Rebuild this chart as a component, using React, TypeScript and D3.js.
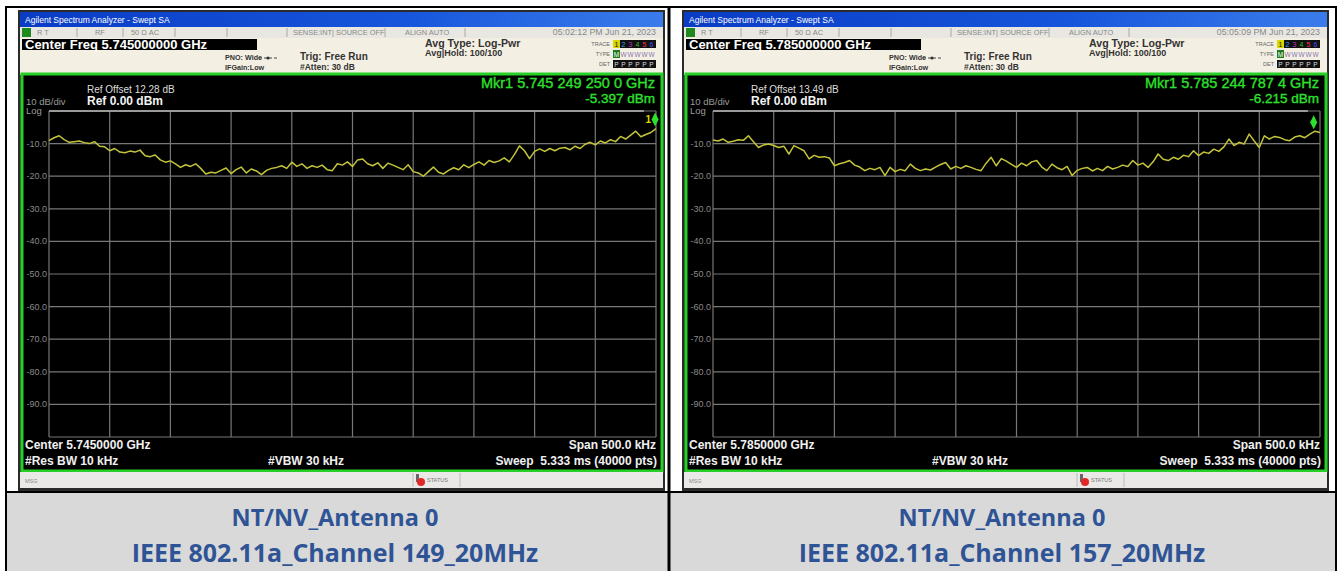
import React from 'react';
import * as d3 from 'd3';

// sweep readings (dBm), 121 evenly spaced points across the 500 kHz span
const ch149Trace = [
  -9.1, -8.2, -7.6, -8.8, -9.6, -9.4, -9.2, -9.7, -10.0, -9.4,
  -10.8, -11.0, -12.2, -11.5, -12.6, -12.8, -12.3, -12.6, -12.0, -13.7,
  -14.0, -13.5, -15.0, -15.7, -15.3, -16.2, -17.3, -16.5, -17.0, -16.2,
  -17.6, -19.3, -18.8, -19.0, -18.2, -17.5, -19.2, -18.0, -17.2, -19.0,
  -17.8, -18.4, -19.5, -18.2, -17.6, -17.3, -16.8, -17.6, -15.7, -17.0,
  -16.2, -17.6, -16.8, -17.3, -16.6, -18.0, -18.3, -16.2, -16.6, -15.6,
  -17.0, -15.0, -14.7, -16.2, -16.8, -15.9, -17.6, -16.0, -16.6, -17.3,
  -18.0, -16.5, -18.6, -19.0, -20.0, -18.6, -17.2, -18.8, -19.3, -18.2,
  -17.4, -18.0, -16.5, -17.4, -16.4, -15.6, -16.6, -15.2, -15.8, -15.3,
  -14.4, -15.6, -13.4, -10.7, -12.2, -14.6, -12.4, -11.6, -12.4, -11.5,
  -12.2, -11.4, -11.2, -11.9, -10.8, -11.5, -10.2, -9.6, -10.4, -9.2,
  -9.8, -8.8, -9.4, -7.8, -8.6, -7.4, -6.2, -7.9, -7.2, -6.6,
  -5.4,
];

const ch157Trace = [
  -8.9, -9.2, -8.6, -9.6, -9.3, -8.8, -9.0, -7.6, -9.4, -11.2,
  -10.4, -10.1, -10.6, -11.2, -10.8, -13.2, -10.6, -11.4, -12.2, -14.7,
  -13.6, -14.2, -14.0, -14.4, -16.8, -16.2, -15.8, -15.2, -16.6, -17.2,
  -18.3, -17.6, -18.0, -17.3, -19.8, -17.3, -18.6, -17.9, -18.3, -16.3,
  -17.6, -18.3, -17.8, -18.1, -17.2, -16.4, -15.8, -17.8, -17.0, -17.6,
  -16.8, -17.3, -17.9, -18.3, -16.0, -14.2, -16.8, -14.6, -15.4, -16.4,
  -17.3, -16.0, -16.8, -15.6, -15.2, -17.2, -18.3, -16.3, -17.4, -18.0,
  -17.0, -19.8, -18.2, -17.6, -17.3, -18.4, -17.6, -18.3, -17.0, -17.8,
  -17.3, -16.6, -17.0, -15.2, -16.6, -16.0, -17.3, -15.6, -13.2, -14.8,
  -15.2, -14.2, -14.8, -13.6, -14.0, -12.2, -13.7, -12.6, -13.0, -11.7,
  -12.4, -11.0, -8.6, -10.6, -9.6, -10.1, -7.1, -9.2, -11.2, -7.6,
  -8.6, -7.8, -8.1, -8.8, -9.1, -8.0, -7.6, -8.2, -7.1, -6.2,
  -6.6,
];

const centerFreqs = ['5.745000000', '5.785000000'];
const centerShort = ['5.7450000', '5.7850000'];
const refOffsets = ['12.28', '13.49'];
const markerFreqText = ['5.745 249 250 0', '5.785 244 787 4'];
const markerOffsetKHz = [249.25, 244.787];
const markerLevels = [-5.397, -6.215];
const timestamps = ['05:02:12 PM Jun 21, 2023', '05:05:09 PM Jun 21, 2023'];
const captionTop = ['NT/NV_Antenna 0', 'NT/NV_Antenna 0'];
const captionBottom = ['IEEE 802.11a_Channel 149_20MHz', 'IEEE 802.11a_Channel 157_20MHz'];
const yTicks = [-10, -20, -30, -40, -50, -60, -70, -80, -90];
const traceColors = ['#d8d800', '#2aa0ff', '#c030c0', '#30c030', '#ff3060', '#5050ff'];

const W = 1340;
const H = 571;
const SANS = '"Liberation Sans", Arial, sans-serif';

interface PanelProps {
  idx: number;
  dx: number;
  trace: number[];
}

function Panel({ idx, dx, trace }: PanelProps) {
  const x = d3.scaleLinear().domain([-250, 250]).range([49, 656]);
  const y = d3.scaleLinear().domain([-100, 0]).range([437, 111]);
  const step = 500 / (trace.length - 1);
  const line = d3.line<number>()
    .x((d, i) => x(-250 + i * step))
    .y(d => y(d));

  const vGrid = d3.range(-250, 251, 50);
  const hGrid = d3.range(-100, 1, 10);
  const mx = x(markerOffsetKHz[idx]);
  const my = y(markerLevels[idx]);

  return (
    <g transform={`translate(${dx},0)`} fontFamily={SANS}>
      {/* screenshot frame */}
      <rect x={18} y={10} width={647} height={482} fill="#2b2b2b" />
      <defs>
        <linearGradient id={`tb${idx}`} x1="0" x2="1" y1="0" y2="0">
          <stop offset="0" stopColor="#0a3cc4" />
          <stop offset="0.6" stopColor="#1656dc" />
          <stop offset="1" stopColor="#3b7cec" />
        </linearGradient>
      </defs>
      <rect x={20} y={12} width={643} height={15} fill={`url(#tb${idx})`} />
      <text x={25} y={23} fontSize={8.5} fill="#fff">Agilent Spectrum Analyzer - Swept SA</text>

      {/* status row */}
      <rect x={20} y={27} width={643} height={11} fill="#e9e7e2" />
      <rect x={22} y={28} width={9} height={9} fill="#1e8a1e" />
      {[77, 123, 175, 227, 287, 385, 465].map(sx => (
        <line key={sx} x1={sx} x2={sx} y1={28} y2={37} stroke="#a8a8a8" />
      ))}
      <g fontSize={7.4} fill="#888">
        <text x={37} y={35}>R  T</text>
        <text x={95} y={35}>RF</text>
        <text x={131} y={35}>50 Ω   AC</text>
        <text x={293} y={35}>SENSE:INT| SOURCE OFF</text>
        <text x={405} y={35}>ALIGN AUTO</text>
        <text x={656} y={35} textAnchor="end" fontSize={8.8}>{timestamps[idx]}</text>
      </g>

      {/* settings header */}
      <rect x={20} y={38} width={643} height={37} fill="#f3f0e3" />
      <rect x={22} y={39} width={235} height={11} fill="#000" />
      <text x={25} y={49} fontSize={13} fontWeight="bold" fill="#fff">Center Freq {centerFreqs[idx]} GHz</text>
      <g fontSize={7.2} fontWeight="bold" fill="#333">
        <text x={225} y={60}>PNO: Wide</text>
        <text x={225} y={70}>IFGain:Low</text>
      </g>
      <line x1={259} x2={277} y1={58} y2={58} stroke="#444" strokeDasharray="3 2" />
      <circle cx={268} cy={58} r={1.6} fill="#333" />
      <g fontSize={10} fontWeight="bold" fill="#333">
        <text x={300} y={60}>Trig: Free Run</text>
        <text x={300} y={70} fontSize={8.5}>#Atten: 30 dB</text>
        <text x={425} y={47} fontSize={10.6}>Avg Type: Log-Pwr</text>
        <text x={425} y={56} fontSize={9}>Avg|Hold: 100/100</text>
      </g>
      <g fontSize={5.5} fill="#666" textAnchor="end">
        <text x={610} y={46}>TRACE</text>
        <text x={610} y={56}>TYPE</text>
        <text x={610} y={66}>DET</text>
      </g>
      <rect x={613} y={40} width={43} height={8} fill="#111" />
      <rect x={613} y={60} width={43} height={8} fill="#111" />
      {traceColors.map((c, i) => (
        <g key={i}>
          {i === 0 && <rect x={613} y={40} width={7} height={8} fill={c} />}
          <text x={616.5 + i * 7} y={47} fontSize={7} textAnchor="middle" fill={i === 0 ? '#111' : c}>{i + 1}</text>
          {i === 0 && <rect x={613} y={50} width={7} height={8} fill="#1e7a1e" />}
          <text x={616.5 + i * 7} y={56.5} fontSize={6.5} textAnchor="middle" fill={i === 0 ? '#fff' : '#8a70b0'}>{i === 0 ? 'M' : 'W'}</text>
          <text x={616.5 + i * 7} y={66.5} fontSize={6.5} textAnchor="middle" fill="#ddd">P</text>
        </g>
      ))}

      {/* display */}
      <rect x={22} y={74} width={640} height={397} fill="#000" stroke="#27d027" strokeWidth={3} />
      <text x={87} y={93} fontSize={10} fill="#ddd">Ref Offset {refOffsets[idx]} dB</text>
      <text x={87} y={105} fontSize={12} fontWeight="bold" fill="#f2f2f2">Ref 0.00 dBm</text>
      <text x={26} y={105} fontSize={9.5} fill="#9a9a9a">10 dB/div</text>
      <text x={26} y={114} fontSize={9.5} fill="#9a9a9a">Log</text>
      <g fill="#2ee02e" stroke="#2ee02e" strokeWidth={0.35} textAnchor="end">
        <text x={655} y={88} fontSize={14.5}>Mkr1 {markerFreqText[idx]} GHz</text>
        <text x={655} y={103} fontSize={13.5}>{markerLevels[idx].toFixed(3)} dBm</text>
      </g>

      {vGrid.map(v => (
        <line key={`v${v}`} x1={x(v)} x2={x(v)} y1={y(0)} y2={y(-100)} stroke="#777" strokeWidth={1.2} />
      ))}
      {hGrid.map(v => (
        <line key={`h${v}`} x1={x(-250)} x2={x(250)} y1={y(v)} y2={y(v)} stroke="#777" strokeWidth={1.2} />
      ))}
      <line x1={x(-250)} x2={x(240)} y1={y(0)} y2={y(0)} stroke="#9a9a9a" strokeWidth={2} />
      {yTicks.map(t => (
        <text key={t} x={47} y={y(t) + 3} fontSize={9} fill="#8a8a8a" textAnchor="end">{t.toFixed(1)}</text>
      ))}

      <path d={line(trace) ?? ''} fill="none" stroke="#c4c43a" strokeWidth={1.5} strokeLinejoin="round" />

      {/* marker */}
      <path d={`M${mx},${my - 2} L${mx + 3.5},${my - 9} L${mx},${my - 16} L${mx - 3.5},${my - 9} Z`} fill="#2ee02e" />
      {idx === 0 && <text x={mx - 4} y={my - 6} fontSize={10} fontWeight="bold" fill="#d8d800" textAnchor="end">1</text>}

      <g fontSize={12} fontWeight="bold" fill="#f0f0f0">
        <text x={25} y={449}>Center {centerShort[idx]} GHz</text>
        <text x={25} y={465}>#Res BW 10 kHz</text>
        <text x={268} y={465}>#VBW 30 kHz</text>
        <text x={656} y={449} textAnchor="end">Span 500.0 kHz</text>
        <text x={657} y={465} textAnchor="end" style={{ whiteSpace: 'pre' }}>Sweep  5.333 ms (40000 pts)</text>
      </g>

      {/* message row */}
      <rect x={20} y={472} width={643} height={16} fill="#ebe8e8" />
      <text x={25} y={483} fontSize={5.5} fill="#888">MSG</text>
      <line x1={413} x2={413} y1={473} y2={487} stroke="#bbb" />
      <line x1={460} x2={460} y1={473} y2={487} stroke="#bbb" />
      <rect x={416} y={474} width={3} height={8} fill="#666" />
      <circle cx={421} cy={482} r={4} fill="#e02828" />
      <text x={427} y={482} fontSize={5.5} fill="#777">STATUS</text>
    </g>
  );
}

export default function App() {
  const colMid = 669;
  return (
    <svg width={W} height={H} style={{ position: 'absolute', left: 0, top: 0, background: '#fff' }}>
      <rect x={0} y={0} width={W} height={H} fill="#fff" />
      <rect x={6} y={493} width={1330} height={H - 493} fill="#d9d9d9" />

      <Panel idx={0} dx={0} trace={ch149Trace} />
      <Panel idx={1} dx={664} trace={ch157Trace} />

      {/* table borders */}
      <line x1={5} x2={1337} y1={7} y2={7} stroke="#000" strokeWidth={2} />
      <line x1={5} x2={1337} y1={492} y2={492} stroke="#000" strokeWidth={2} />
      <line x1={6} x2={6} y1={6} y2={H} stroke="#000" strokeWidth={2} />
      <line x1={colMid} x2={colMid} y1={6} y2={H} stroke="#000" strokeWidth={3} />
      <line x1={1336} x2={1336} y1={6} y2={H} stroke="#000" strokeWidth={2} />

      <g fontFamily='"Open Sans", sans-serif' fontWeight="bold" fill="#2f5496" textAnchor="middle">
        {[0, 1].map(i => {
          const cx = i === 0 ? 335 : 1002;
          return (
            <g key={i}>
              <text x={cx} y={526} fontSize={23.5}>{captionTop[i]}</text>
              <text x={cx} y={562} fontSize={25}>{captionBottom[i]}</text>
            </g>
          );
        })}
      </g>
    </svg>
  );
}
